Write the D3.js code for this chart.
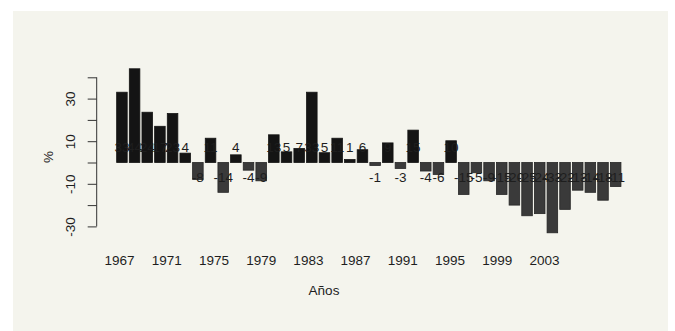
<!DOCTYPE html>
<html>
<head>
<meta charset="utf-8">
<script src="https://cdn.jsdelivr.net/npm/d3@7"></script>
<style>
  html, body { margin: 0; padding: 0; background: #ffffff; }
  svg { display: block; }
  text { font-family: "Liberation Sans", Arial, sans-serif; fill: #1e1e1e; }
</style>
</head>
<body>
<svg id="chart" width="675" height="331"></svg>
<script>
// ---- data ----
const years = d3.range(1967, 2007);
const values = [33, 44, 23.6, 17, 23, 4.4, -8, 11.4, -14, 3.6, -3.6, -8.6, 13,
                5, 6.6, 33, 4.6, 11.4, 1.4, 6, -1.4, 9.2, -2.8, 15.2, -4, -5.6, 10.2,
                -15, -4.8, -8.6, -15, -20, -25, -24, -33, -22, -13, -14, -17.7, -11.3];
const labelYears = [1967, 1971, 1975, 1979, 1983, 1987, 1991, 1995, 1999, 2003];
const yTicks = [-30, -20, -10, 0, 10, 20, 30, 40];
const yTickLabels = [-30, -10, 10, 30];
const xTitle = "Años";
const yTitle = "%";

const svg = d3.select("#chart");

// panel background
svg.append("rect").attr("x", 13).attr("y", 11).attr("width", 655).attr("height", 320)
  .attr("fill", "#f4f4ed");

const y = d3.scaleLinear().domain([-30, 40]).range([226.4, 77.3]);
const x = d3.scaleBand().domain(years).range([115.6, 622]).paddingInner(1 / 6).paddingOuter(1 / 12);
const xl = d3.scaleLinear().domain([1967, 2003]).range([119, 544]);

const data = years.map((yr, i) => ({ yr, v: values[i] }));

// bars
svg.append("g").selectAll("rect").data(data).join("rect")
  .attr("x", d => x(d.yr))
  .attr("width", x.bandwidth())
  .attr("y", d => y(Math.max(0, d.v)))
  .attr("height", d => Math.abs(y(d.v) - y(0)))
  .attr("fill", d => d.v >= 0 ? "#141414" : "#3a3a3a")
  .attr("stroke", d => d.v >= 0 ? "#141414" : "#262626")
  .attr("stroke-width", 0.8);

// value labels
svg.append("g").selectAll("text").data(data).join("text")
  .attr("x", d => x(d.yr) + x.bandwidth() / 2)
  .attr("y", d => y(d.v >= 0 ? 7 : -7))
  .attr("text-anchor", "middle")
  .attr("dominant-baseline", "central")
  .attr("font-size", "13.5px")
  .text(d => Math.round(d.v));

// y axis
const yAxis = d3.axisLeft(y).tickValues(yTicks).tickSize(9).tickPadding(3)
  .tickFormat(d => yTickLabels.includes(d) ? d : "");
const gy = svg.append("g").attr("transform", "translate(96.7,0)").call(yAxis);
gy.select(".domain").attr("d", `M0,${y(-30)}V${y(40)}`).attr("stroke", "#333");
gy.selectAll(".tick line").attr("stroke", "#333");
gy.selectAll(".tick text")
  .attr("font-size", "13.5px")
  .attr("font-family", "Liberation Sans, Arial, sans-serif")
  .attr("fill", "#1e1e1e")
  .attr("transform", "rotate(-90)")
  .attr("x", 0).attr("y", -26)
  .attr("text-anchor", "middle")
  .attr("dy", "0.35em");

// x axis labels (no axis line)
const xAxis = d3.axisBottom(xl).tickValues(labelYears).tickSize(0).tickPadding(0).tickFormat(d3.format("d"));
const gx = svg.append("g").attr("transform", "translate(0,260)").call(xAxis);
gx.select(".domain").remove();
gx.selectAll(".tick text")
  .attr("font-size", "13.5px")
  .attr("font-family", "Liberation Sans, Arial, sans-serif")
  .attr("fill", "#1e1e1e")
  .attr("y", 0)
  .attr("dy", "0.35em");

// titles
svg.append("text").attr("x", 324).attr("y", 290).attr("text-anchor", "middle")
  .attr("dominant-baseline", "central").attr("font-size", "13.5px").text(xTitle);
svg.append("text").attr("transform", "translate(48,157) rotate(-90)").attr("text-anchor", "middle")
  .attr("dominant-baseline", "central").attr("font-size", "13.5px").text(yTitle);
</script>
</body>
</html>
